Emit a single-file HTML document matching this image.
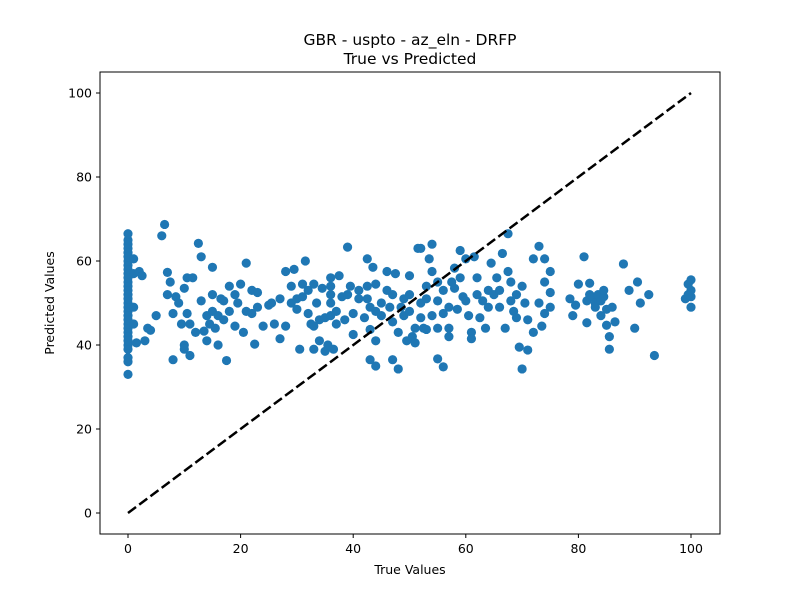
<!DOCTYPE html>
<html><head><meta charset="utf-8"><style>body{margin:0;background:#fff}svg{display:block;font-family:"DejaVu Sans","Liberation Sans",sans-serif}</style></head>
<body>
<svg id="chart" width="800" height="600">
<rect x="0" y="0" width="800" height="600" fill="#fff"/>
<text x="410" y="45" text-anchor="middle" font-size="15.5">GBR - uspto - az_eln - DRFP</text>
<text x="410" y="64" text-anchor="middle" font-size="15.5">True vs Predicted</text>
<g id="plot"></g>
<rect x="100" y="72" width="620" height="462" fill="none" stroke="#000" stroke-width="1"/>
<text x="410" y="574" text-anchor="middle" font-size="12.5">True Values</text>
<text transform="translate(54,303) rotate(-90)" text-anchor="middle" font-size="12.5">Predicted Values</text>
</svg>
<script>
const xTicks=[0,20,40,60,80,100];
const yTicks=[0,20,40,60,80,100];
const zeroY=[33,36,37,39,40,41,42,43,44,45,46,47,48,49,50,51,52,53,54,55,56,57,58,59,60,61,62,63,64,65,66.5];
const trueVals=[1,1,1,1,1.5,2,2.5,3,3.5,4,5,6,6.5,7,7,7.5,8,8,8.5,9,9.5,10,10,10,10.5,10.5,11,11,11.5,12,12.5,13,13,13.5,14,14,14.5,15,15,15,15.5,16,16,16.5,17,17,17.5,18,18,19,19,19.5,20,20.5,21,21,22,22,22.5,23,23,24,25,25.5,26,27,27,28,28,29,29,29.5,30,30,30.5,31,31,31.5,32,32,32.5,33,33,33,33.5,34,34,34.5,35,35,35.5,36,36,36,36,36,36.5,37,37,37.5,38,38.5,39,39,39.5,40,40,41,41,42,42.5,42.5,42.5,43,43,43,43.5,44,44,44,44,45,45,46,46,46.5,47,47,47,47.5,48,48,48.5,49,49,49.5,50,50,50,50.5,51,51,51.5,52,52,52,52.5,53,53,53,53.5,54,54,54,55,55,55,55,56,56,56,57,57,57,57.5,58,58,58.5,59,59,59.5,60,60,60.5,61,61,61.5,62,62,62.5,63,63.5,64,64,64.5,65,65.5,66,66,66.5,67,67.5,67.5,68,68,68.5,69,69,69.5,70,70,70.5,71,71,72,72,73,73,73.5,74,74,74,75,75,75,78.5,79,79.5,80,81,81.5,81.5,82,82,82.5,83,83,83.5,84,84,84.5,84.5,85,85,85.5,85.5,86,86.5,88,89,90,90.5,91,92.5,93.5,99,99.5,100,100,100,100,99.5];
const predVals=[49,45,57,60.5,40.5,57.5,56.5,41,44,43.5,47,66,68.7,57.3,52,55,47.5,36.5,51.5,50,45,40,39,53.5,56,47.5,45,37.5,56,43,64.2,61,50.5,43.3,47,41,45,48,52,58.5,44,47,40,51,50.5,46,36.3,54,48,44.5,52,50,54.5,43,59.5,48,53,47.5,40.2,52.5,49,44.5,49.5,50,45,41.5,51,44.5,57.5,50,54,58,48.5,51,39,54.5,51.5,60,53,47.5,45,54.5,44.5,39,50,46,41,53.5,46.5,38.5,40,56,54,52,50,47,39,48,45,56.5,51.5,46,63.3,52,54,47.5,42.5,53,51,46.5,60.5,54,51,49,43.7,36.5,58.5,48,41,35,54.5,50,47,57.5,53,49,52,45.5,36.5,57,43,34.3,49,51,47,41,56.5,52,48,42,44,40.5,63,50,46.5,63,44,54,51,43.7,60.5,64,47,57.5,55,50.5,44,36.7,47.5,53,34.8,49,44,42,55,58.3,53.5,48.5,62.5,56,51.5,60.5,50.5,47,43,41.5,61,56,52,46.5,50.5,44,53,49,59.5,52,56,53,49,61.8,44,57.5,66.5,55,50.5,48,52,46.5,39.5,34.3,54,50,38.8,46,60.5,43,63.5,50,44.5,60.5,47.5,55,52.5,57.5,49,51,47,49.5,54.5,61,50.5,45.3,54.7,52,51.5,50,49,52,50.5,47,51.5,53,44.7,48.5,42,39,49,45.5,59.3,53,44,55,50,52,37.5,51,54.5,55.5,53,51.5,49,52];
const NS="http://www.w3.org/2000/svg";
const sx=v=>128+v*5.63, sy=v=>513-v*4.2;
const svg=document.getElementById('chart'), g=document.getElementById('plot');
function mk(t,a,p){const e=document.createElementNS(NS,t);for(const k in a)e.setAttribute(k,a[k]);(p||g).appendChild(e);return e;}
xTicks.forEach(t=>{
 const l=mk('line',{x1:sx(t),x2:sx(t),y1:534,y2:538,stroke:'#000'},svg);
 
 
 const tx=mk('text',{x:sx(t),y:553,'text-anchor':'middle','font-size':12.5},svg);tx.textContent=t;
 
 
});
yTicks.forEach(t=>{
 const l=mk('line',{x1:96,x2:100,y1:sy(t),y2:sy(t),stroke:'#000'},svg);
 
 
 const tx=mk('text',{x:92,y:sy(t)+4.5,'text-anchor':'end','font-size':12.5},svg);tx.textContent=t;
 
 
});
zeroY.forEach(y=>{
 const c=mk('circle',{cx:sx(0),cy:sy(y),r:4.6,fill:'#1f77b4'});
 
 
});
trueVals.forEach((x,i)=>{
 const c=mk('circle',{cx:sx(x),cy:sy(predVals[i]),r:4.6,fill:'#1f77b4'});
 
 
});
const d=mk('line',{x1:sx(0),y1:sy(0),x2:sx(100),y2:sy(100),stroke:'#000','stroke-width':2.5,'stroke-dasharray':'10,4'});


</script>
</body></html>
